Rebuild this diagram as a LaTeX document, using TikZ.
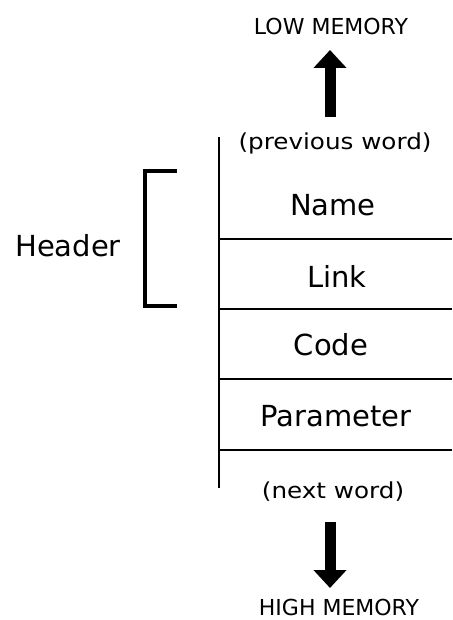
\documentclass[tikz,border=0pt]{standalone}
\usepackage{fontspec}
\setmainfont{DejaVu Sans}
\newfontfamily\labfont[FakeStretch=1.12]{DejaVu Sans}
\usetikzlibrary{arrows.meta}
\begin{document}
\begin{tikzpicture}[x=1pt,y=-1pt,
  cell/.style={font=\fontsize{29}{31}\selectfont, inner sep=0pt, anchor=center},
  small/.style={font=\labfont\fontsize{22}{24}\selectfont, inner sep=0pt, anchor=center},
  caps/.style={font=\fontsize{22}{24}\selectfont, inner sep=0pt, anchor=base},
  rule/.style={line width=2.4pt},
  bigarrow/.style={line width=11pt, -{Triangle[width=32pt,length=18pt]}}]
\useasboundingbox (0,0) rectangle (452,620);
% memory column
\coordinate (vtop) at (219,137);
\coordinate (vbot) at (219,488);
\draw[rule] (vtop) -- (vbot);
\foreach \y/\n in {239/a,309/b,379/c,450/d}{
  \coordinate (l\n) at (219,\y);
  \coordinate (r\n) at (452,\y);
  \draw[rule] (l\n) -- (r\n);
}
\node[caps] (low) at (331,35) {LOW MEMORY};
\node[small] (prev) at (335,143) {(previous word)};
\node[cell] (name) at (333,205) {Name};
\node[cell] (link) at (337,276) {Link};
\node[cell] (code) at (331,345) {Code};
\node[cell] (param) at (336,416) {Parameter};
\node[small] (next) at (333,492) {(next word)};
\node[caps] (high) at (339,615) {HIGH MEMORY};
% arrows
\coordinate (ua) at (330,117);
\coordinate (ub) at (330,50);
\draw[bigarrow] (ua) -- (ub);
\coordinate (da) at (330,522);
\coordinate (db) at (330,588);
\draw[bigarrow] (da) -- (db);
% header bracket
\coordinate (bt) at (177,171);
\coordinate (bb) at (177,306);
\draw[line width=3.2pt] (bt) -- (145,171) -- (145,306) -- (bb);
\node[cell] (hdr) at (68,246) {Header};
\end{tikzpicture}
\end{document}
